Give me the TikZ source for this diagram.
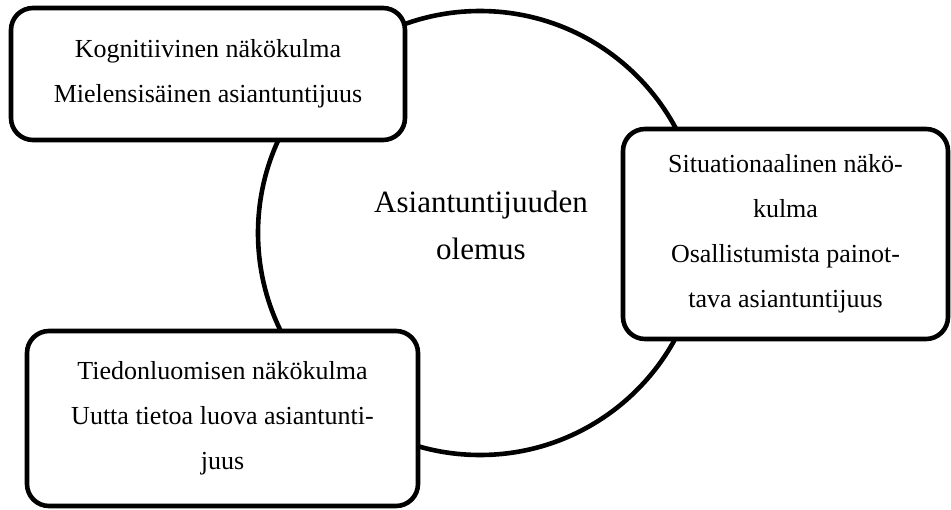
\documentclass[tikz,border=0pt]{standalone}
\usepackage{fontspec}
\setmainfont{Liberation Serif}
\tikzset{
  boxstyle/.style={draw=black, line width=4.6pt, rounded corners=22pt, fill=white, inner sep=0pt, align=center, font=\fontsize{26}{45}\selectfont},
  ringstyle/.style={draw=black, line width=4.6pt, circle, inner sep=0pt},
  centertext/.style={align=center, inner sep=0pt, font=\fontsize{31}{47}\selectfont}
}
\begin{document}
\begin{tikzpicture}[x=1pt,y=-1pt]
\useasboundingbox (0,0) rectangle (951,509);
\node[ringstyle, minimum size=444pt] (ring) at (480,233) {};
\node[centertext] (core) at (481,225) {Asiantuntijuuden\\olemus};
\node[boxstyle, minimum width=394pt, minimum height=132pt] (kog) at (208,74)
  {Kognitiivinen näkökulma\\Mielensisäinen asiantuntijuus};
\node[boxstyle, minimum width=325pt, minimum height=210pt] (sit) at (785.5,234)
  {\rule{0pt}{6pt}Situationaalinen näkö-\\kulma\\Osallistumista painot-\\tava asiantuntijuus};
\node[boxstyle, minimum width=391pt, minimum height=175pt] (tie) at (222.5,418.5)
  {Tiedonluomisen näkökulma\\Uutta tietoa luova asiantunti-\\juus};
\end{tikzpicture}
\end{document}
